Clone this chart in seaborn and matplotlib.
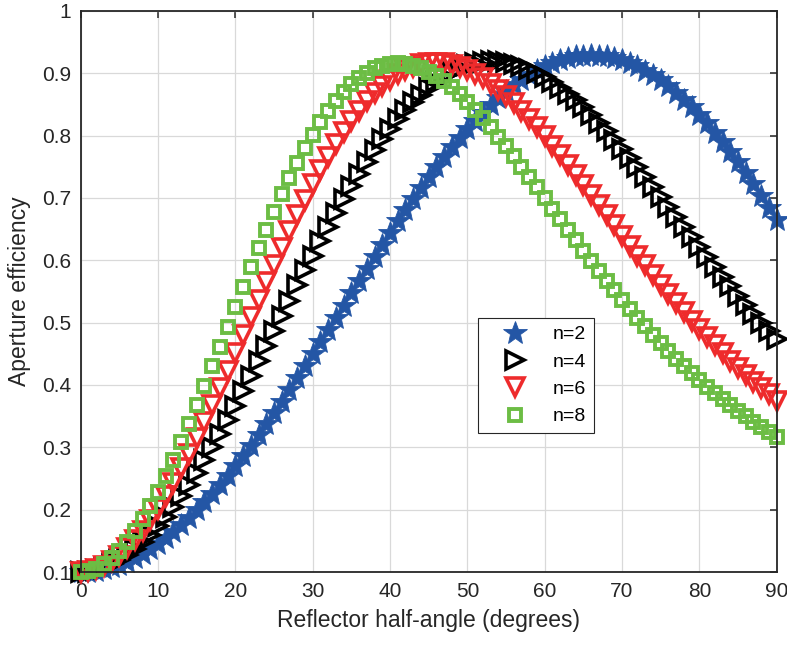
import matplotlib
matplotlib.use("Agg")
import matplotlib.pyplot as plt
import seaborn as sns
from matplotlib.ticker import FuncFormatter

# reflector half-angle, one marker per degree
angle = list(range(0, 91))

eff_n2 = [0.1000, 0.1005, 0.1018, 0.1041, 0.1073, 0.1114, 0.1163, 0.1222, 0.1289, 0.1365,
          0.1449, 0.1542, 0.1642, 0.1750, 0.1865, 0.1988, 0.2118, 0.2255, 0.2397, 0.2546,
          0.2701, 0.2862, 0.3027, 0.3197, 0.3372, 0.3551, 0.3734, 0.3920, 0.4108, 0.4299,
          0.4492, 0.4687, 0.4882, 0.5078, 0.5274, 0.5471, 0.5667, 0.5862, 0.6055, 0.6246,
          0.6436, 0.6623, 0.6806, 0.6985, 0.7160, 0.7331, 0.7497, 0.7658, 0.7813, 0.7962,
          0.8105, 0.8241, 0.8370, 0.8492, 0.8606, 0.8712, 0.8810, 0.8899, 0.8979, 0.9051,
          0.9114, 0.9167, 0.9211, 0.9245, 0.9270, 0.9285, 0.9290, 0.9285, 0.9270, 0.9245,
          0.9210, 0.9165, 0.9110, 0.9045, 0.8971, 0.8887, 0.8794, 0.8691, 0.8580, 0.8461,
          0.8332, 0.8195, 0.8050, 0.7898, 0.7739, 0.7572, 0.7400, 0.7221, 0.7037, 0.6846,
          0.6650]

eff_n4 = [0.1000, 0.1008, 0.1030, 0.1068, 0.1121, 0.1189, 0.1271, 0.1367, 0.1477, 0.1600,
          0.1737, 0.1886, 0.2046, 0.2217, 0.2398, 0.2590, 0.2792, 0.3000, 0.3216, 0.3439,
          0.3668, 0.3902, 0.4139, 0.4379, 0.4621, 0.4866, 0.5111, 0.5355, 0.5597, 0.5837,
          0.6075, 0.6309, 0.6537, 0.6760, 0.6976, 0.7187, 0.7389, 0.7583, 0.7767, 0.7942,
          0.8108, 0.8263, 0.8406, 0.8538, 0.8659, 0.8769, 0.8865, 0.8950, 0.9022, 0.9081,
          0.9129, 0.9163, 0.9185, 0.9195, 0.9193, 0.9179, 0.9153, 0.9115, 0.9068, 0.9009,
          0.8940, 0.8860, 0.8772, 0.8676, 0.8571, 0.8457, 0.8336, 0.8209, 0.8076, 0.7937,
          0.7793, 0.7645, 0.7494, 0.7339, 0.7182, 0.7022, 0.6861, 0.6699, 0.6538, 0.6376,
          0.6214, 0.6054, 0.5896, 0.5740, 0.5586, 0.5434, 0.5287, 0.5143, 0.5002, 0.4865,
          0.4731]

eff_n6 = [0.1000, 0.1011, 0.1043, 0.1096, 0.1169, 0.1263, 0.1377, 0.1510, 0.1661, 0.1830,
          0.2016, 0.2219, 0.2434, 0.2661, 0.2900, 0.3152, 0.3414, 0.3681, 0.3954, 0.4232,
          0.4516, 0.4802, 0.5086, 0.5368, 0.5649, 0.5929, 0.6202, 0.6468, 0.6725, 0.6975,
          0.7217, 0.7446, 0.7663, 0.7867, 0.8059, 0.8238, 0.8400, 0.8548, 0.8680, 0.8797,
          0.8899, 0.8983, 0.9051, 0.9104, 0.9142, 0.9164, 0.9170, 0.9162, 0.9140, 0.9104,
          0.9055, 0.8992, 0.8919, 0.8835, 0.8740, 0.8634, 0.8519, 0.8397, 0.8268, 0.8131,
          0.7988, 0.7840, 0.7688, 0.7533, 0.7375, 0.7213, 0.7051, 0.6888, 0.6725, 0.6562,
          0.6398, 0.6237, 0.6077, 0.5920, 0.5764, 0.5611, 0.5461, 0.5315, 0.5172, 0.5032,
          0.4896, 0.4764, 0.4637, 0.4513, 0.4392, 0.4276, 0.4163, 0.4055, 0.3950, 0.3848,
          0.3751]

eff_n8 = [0.1000, 0.1014, 0.1055, 0.1123, 0.1217, 0.1337, 0.1482, 0.1651, 0.1843, 0.2055,
          0.2287, 0.2539, 0.2804, 0.3082, 0.3372, 0.3675, 0.3986, 0.4301, 0.4617, 0.4937,
          0.5259, 0.5577, 0.5889, 0.6193, 0.6491, 0.6781, 0.7057, 0.7319, 0.7566, 0.7799,
          0.8018, 0.8216, 0.8396, 0.8558, 0.8702, 0.8827, 0.8929, 0.9013, 0.9078, 0.9124,
          0.9152, 0.9159, 0.9150, 0.9125, 0.9084, 0.9027, 0.8954, 0.8870, 0.8773, 0.8665,
          0.8545, 0.8416, 0.8279, 0.8136, 0.7985, 0.7828, 0.7667, 0.7504, 0.7338, 0.7169,
          0.6998, 0.6828, 0.6658, 0.6490, 0.6322, 0.6155, 0.5992, 0.5832, 0.5675, 0.5520,
          0.5369, 0.5222, 0.5079, 0.4940, 0.4805, 0.4674, 0.4547, 0.4425, 0.4306, 0.4192,
          0.4081, 0.3975, 0.3872, 0.3773, 0.3677, 0.3585, 0.3496, 0.3410, 0.3327, 0.3248,
          0.3171]

labels = ["n=2", "n=4", "n=6", "n=8"]
x_ticks = list(range(0, 91, 10))
y_ticks = [0.1, 0.2, 0.3, 0.4, 0.5, 0.6, 0.7, 0.8, 0.9, 1.0]

sns.set_theme(style="white")
plt.rcParams["font.family"] = ["Liberation Sans", "DejaVu Sans"]

fig = plt.figure(figsize=(7.87, 6.5), dpi=100)
ax = fig.add_axes([0.1025, 0.12, 0.8844, 0.8631])

# marker styles: filled star, open right triangle, open down triangle, open square
styles = [
    dict(marker="*", color="#2456a5", markersize=18, markerfacecolor="#2456a5",
         markeredgecolor="#2456a5", markeredgewidth=0.6),
    dict(marker=">", color="black", markersize=12.5, markerfacecolor="none",
         markeredgecolor="black", markeredgewidth=2.6),
    dict(marker="v", color="#ee2b2c", markersize=12.5, markerfacecolor="none",
         markeredgecolor="#ee2b2c", markeredgewidth=2.6),
    dict(marker="s", color="#6cbd44", markersize=8, markerfacecolor="none",
         markeredgecolor="#6cbd44", markeredgewidth=2.8),
]

for vals, lab, st in zip([eff_n2, eff_n4, eff_n6, eff_n8], labels, styles):
    sns.lineplot(x=angle, y=vals, ax=ax, linestyle="", label=lab,
                 sort=False, estimator=None, clip_on=False, **st)

ax.set_xlim(0, 90)
ax.set_ylim(0.1, 1)
ax.set_xticks(x_ticks)
ax.set_yticks(y_ticks)
ax.yaxis.set_major_formatter(FuncFormatter(lambda v, p: f"{v:g}"))

ax.grid(True, color="#d9d9d9", linewidth=0.9)
ax.set_axisbelow(True)
for sp in ax.spines.values():
    sp.set_color("#262626")
    sp.set_linewidth(1.3)
    sp.set_visible(True)

ax.tick_params(direction="in", length=5, width=1.1, color="#262626",
               top=True, right=True, labelsize=15, labelcolor="#262626")
ax.tick_params(axis="x", pad=7)
ax.tick_params(axis="y", pad=7)

ax.set_xlabel("Reflector half-angle (degrees)", fontsize=16.5, color="#262626", labelpad=6)
ax.set_ylabel("Aperture efficiency", fontsize=16.5, color="#262626", labelpad=8)

leg = ax.legend(loc="upper left", bbox_to_anchor=(0.571, 0.4528), borderaxespad=0,
                fontsize=14, frameon=True, fancybox=False, framealpha=1,
                edgecolor="#262626", handlelength=3.0, handletextpad=0.45,
                borderpad=0.4, labelspacing=0.5, numpoints=1)
leg.get_frame().set_linewidth(0.8)
for t in leg.get_texts():
    t.set_color("#000000")

fig.savefig("out.png", dpi=100)
